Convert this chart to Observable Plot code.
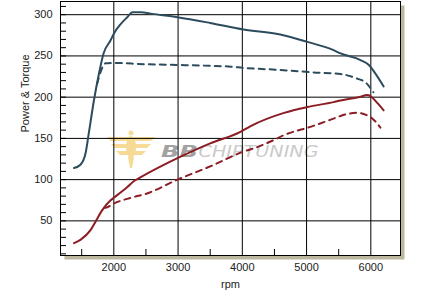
<!DOCTYPE html>
<html><head><meta charset="utf-8">
<script src="https://cdn.jsdelivr.net/npm/d3@7"></script>
<script src="https://cdn.jsdelivr.net/npm/@observablehq/plot@0.6"></script>
<style>body{margin:0;background:#fff}</style>
</head><body><div id="chart"></div>
<script>
// Tick values
const xMajor = [2000, 3000, 4000, 5000, 6000];
const xMinor = [1500, 2500, 3500, 4500, 5500];
const yMajor = [50, 100, 150, 200, 250, 300];
const yMinor = [10,20,30,40,50,60,70,80,90,100,110,120,130,140,150,160,170,180,190,200,210,220,230,240,250,260,270,280,290,300,310];

// Torque (tuned, solid blue)
const torqueTunedRpm = [1380,1480,1560,1610,1690,1770,1840,1950,2000,2100,2210,2290,2420,2600,2990,3500,4020,4590,5010,5420,5530,5840,5970,6050,6200];
const torqueTuned    = [114, 118, 132, 156, 196, 229, 253, 269, 277, 288, 297, 303, 303, 301, 297, 290, 282, 276, 267, 257, 253, 245, 239, 231, 213];
// Torque (stock, dashed blue)
const torqueStockRpm = [1740,1800,1870,2000,2470,2990,3500,3820,4020,4590,5110,5530,5770,5930,6040];
const torqueStock    = [216, 232, 241, 241.5,240, 239, 238, 237, 235.5,233, 230, 228, 223, 217, 206];
// Power (tuned, solid red)
const powerTunedRpm = [1380,1480,1640,1715,1820,1950,2000,2210,2310,2420,2990,3500,3970,4130,4650,5010,5420,5530,5840,5940,6000,6100,6200];
const powerTuned    = [23,  27,  39,  49,  63,  75,  78,  91,  98,  103, 126, 144, 158, 165, 181, 188, 194, 196, 200.5,202.5,201,193, 184];
// Power (stock, dashed red)
const powerStockRpm = [1850,1870,2000,2310,2470,2990,3500,4020,4180,4490,4650,5060,5420,5560,5800,5940,6040,6150];
const powerStock    = [66,  66,  71,  79,  82,  100, 116, 134, 138, 148, 154, 164, 174, 178, 181, 178, 173, 163];

const blue = "#2c4b5d", red = "#8c1d24";
const rows = (xs, ys) => xs.map((x, i) => ({rpm: x, v: ys[i]}));

const chart = Plot.plot({
  width: 425, height: 300,
  marginLeft: 60, marginRight: 25, marginTop: 1, marginBottom: 45,
  style: {fontFamily: "'Liberation Sans', Arial, sans-serif", fontSize: "11px", color: "#222", background: "#fff"},
  x: {domain: [1170, 6462]},
  y: {domain: [8, 316]},
  marks: [
    Plot.frame({fill: "#bcb89f", stroke: null, dx: 4, dy: 4}),
    Plot.frame({fill: "#fff", stroke: null}),
    Plot.text(["BB"], {text: d => d, frameAnchor: "middle", dx: -51, dy: 23, fill: "#a2a2a2", fontWeight: "bold", fontStyle: "italic", fontSize: 16, fontFamily: "'DejaVu Sans', sans-serif"}),
    Plot.text(["CHIPTUNING"], {text: d => d, frameAnchor: "middle", dx: 28, dy: 23, fill: "#cacaca", fontStyle: "italic", fontSize: 16, fontFamily: "'DejaVu Sans', sans-serif"}),
    Plot.ruleX(xMajor, {stroke: "#000", strokeWidth: 1}),
    Plot.ruleY(yMajor, {stroke: "#000", strokeWidth: 1}),
    Plot.tickY(yMinor, {y: d => d, stroke: "#000", insetRight: 334}),
    Plot.tickX(xMinor, {x: d => d, stroke: "#000", insetTop: 248}),
    Plot.line(rows(torqueStockRpm, torqueStock), {x: "rpm", y: "v", stroke: blue, strokeWidth: 2, strokeDasharray: "6,5", curve: "monotone-x"}),
    Plot.line(rows(powerStockRpm, powerStock), {x: "rpm", y: "v", stroke: red, strokeWidth: 2, strokeDasharray: "6,5", curve: "monotone-x"}),
    Plot.line(rows(torqueTunedRpm, torqueTuned), {x: "rpm", y: "v", stroke: blue, strokeWidth: 2, curve: "monotone-x"}),
    Plot.line(rows(powerTunedRpm, powerTuned), {x: "rpm", y: "v", stroke: red, strokeWidth: 2, curve: "monotone-x"}),
    Plot.frame({stroke: "#000", strokeWidth: 1}),
    Plot.axisY(yMajor, {tickSize: 0, tickPadding: 8, label: null, tickFormat: d => String(d)}),
    Plot.axisX(xMajor, {tickSize: 0, tickPadding: 8, label: null, tickFormat: d => String(d)}),
    Plot.text(["rpm"], {text: d => d, frameAnchor: "bottom", dy: 29, lineAnchor: "middle", fill: "#222"}),
    Plot.text(["Power & Torque"], {text: d => d, frameAnchor: "left", dx: -35, dy: 4, rotate: -90, lineAnchor: "middle", fill: "#222"})
  ]
});
document.getElementById("chart").appendChild(chart);

// Watermark stretching and emblem (decorative logo)
const svg = d3.select(chart);
svg.selectAll("text").each(function() {
  const t = d3.select(this).text();
  if (t === "BB") d3.select(this).attr("textLength", 37).attr("lengthAdjust", "spacingAndGlyphs");
  if (t === "CHIPTUNING") d3.select(this).attr("textLength", 120).attr("lengthAdjust", "spacingAndGlyphs");
});
const bbText = svg.selectAll("text").filter(function() { return d3.select(this).text() === "BB"; }).node();
const g = d3.create("svg:g").attr("fill", "#f6d68a").attr("opacity", 0.9).attr("transform", "translate(131,149)");
g.append("circle").attr("cx", 0).attr("cy", -16).attr("r", 2.5);
g.append("path").attr("d", "M-24,-12 L24,-12 L20,-8 L-20,-8 Z");
g.append("path").attr("d", "M-20,-5 L20,-5 L16,-1 L-16,-1 Z");
g.append("path").attr("d", "M-15,2 L15,2 L11,6 L-11,6 Z");
g.append("ellipse").attr("cx", 0).attr("cy", -2).attr("rx", 5).attr("ry", 11);
g.append("path").attr("d", "M-3,8 L3,8 L1,19 L-1,19 Z");
if (bbText) {
  const grp = bbText.closest("g");
  grp.parentNode.insertBefore(g.node(), grp);
}
</script>
</body></html>
